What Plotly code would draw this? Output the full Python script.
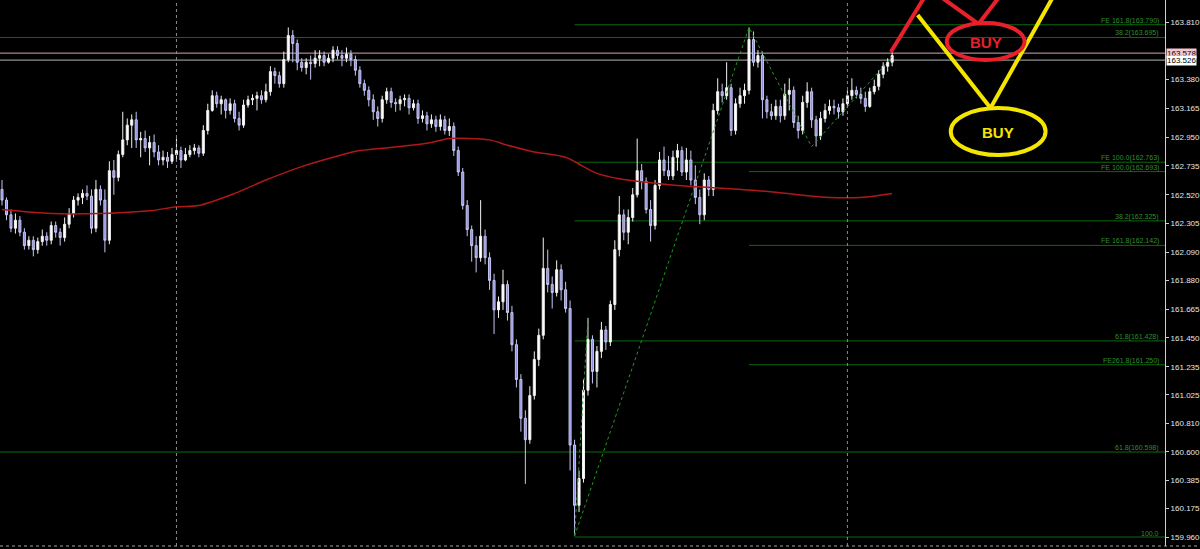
import plotly.graph_objects as go

# ──────────────────────────────────────────────────────────────────────────────
#  Data
# ──────────────────────────────────────────────────────────────────────────────

opens = [
    162.56, 162.48, 162.37, 162.27, 162.33, 162.24, 162.14, 162.18, 162.11, 162.17,
    162.21, 162.18, 162.29, 162.24, 162.20, 162.30, 162.38, 162.48, 162.50, 162.53,
    162.51, 162.27, 162.56, 162.48, 162.18, 162.70, 162.65, 162.82, 162.93, 163.04,
    163.08, 162.93, 162.94, 162.87, 162.91, 162.84, 162.78, 162.80, 162.77, 162.82,
    162.85, 162.78, 162.82, 162.85, 162.87, 162.83, 163.00, 163.15, 163.26, 163.20,
    163.23, 163.15, 163.20, 163.09, 163.04, 163.19, 163.23, 163.24, 163.26, 163.23,
    163.29, 163.44, 163.41, 163.35, 163.53, 163.71, 163.65, 163.51, 163.47, 163.51,
    163.50, 163.54, 163.56, 163.51, 163.54, 163.60, 163.56, 163.54, 163.57, 163.53,
    163.45, 163.35, 163.30, 163.23, 163.14, 163.09, 163.23, 163.29, 163.21, 163.20,
    163.23, 163.24, 163.17, 163.20, 163.09, 163.11, 163.05, 163.08, 163.03, 163.08,
    163.00, 163.03, 162.85, 162.69, 162.44, 162.26, 162.14, 162.05, 162.21, 162.05,
    161.88, 161.66, 161.72, 161.85, 161.64, 161.40, 161.14, 160.85, 160.69, 161.02,
    161.29, 161.47, 161.97, 161.85, 161.79, 161.96, 161.81, 161.67, 160.65, 160.20,
    160.40, 161.06, 161.44, 161.20, 161.35, 161.51, 161.42, 161.70, 162.11, 162.37,
    162.24, 162.35, 162.52, 162.70, 162.62, 162.41, 162.29, 162.59, 162.78, 162.70,
    162.66, 162.80, 162.85, 162.69, 162.78, 162.63, 162.50, 162.37, 162.63, 162.56,
    163.15, 163.29, 163.26, 163.32, 163.00, 163.20, 163.26, 163.30, 163.68, 163.51,
    163.56, 163.23, 163.14, 163.11, 163.18, 163.11, 163.27, 163.30, 163.06, 163.00,
    163.21, 163.29, 163.08, 162.96, 163.09, 163.15, 163.18, 163.17, 163.14, 163.20,
    163.26, 163.30, 163.27, 163.24, 163.18, 163.29, 163.33, 163.42, 163.48, 163.51,
]
highs = [
    162.63, 162.50, 162.41, 162.38, 162.36, 162.27, 162.21, 162.21, 162.20, 162.26,
    162.24, 162.32, 162.32, 162.27, 162.35, 162.42, 162.51, 162.53, 162.56, 162.59,
    162.56, 162.63, 162.59, 162.56, 162.77, 162.78, 162.85, 163.14, 163.09, 163.12,
    163.14, 162.99, 163.00, 162.96, 162.97, 162.89, 162.85, 162.84, 162.87, 162.94,
    162.88, 162.87, 162.89, 162.90, 162.89, 163.04, 163.20, 163.30, 163.29, 163.26,
    163.24, 163.24, 163.23, 163.14, 163.23, 163.26, 163.27, 163.29, 163.30, 163.35,
    163.48, 163.47, 163.44, 163.59, 163.77, 163.75, 163.68, 163.54, 163.54, 163.56,
    163.60, 163.60, 163.59, 163.57, 163.63, 163.63, 163.60, 163.62, 163.60, 163.56,
    163.48, 163.38, 163.33, 163.27, 163.18, 163.26, 163.32, 163.32, 163.24, 163.26,
    163.27, 163.27, 163.23, 163.23, 163.15, 163.14, 163.12, 163.11, 163.12, 163.11,
    163.09, 163.06, 162.88, 162.72, 162.48, 162.29, 162.21, 162.48, 162.26, 162.09,
    161.93, 161.76, 161.96, 161.88, 161.69, 161.44, 161.18, 160.91, 161.09, 161.35,
    161.52, 162.20, 162.11, 161.91, 162.03, 162.00, 161.87, 161.73, 160.69, 160.46,
    161.14, 161.60, 161.47, 161.39, 161.57, 161.54, 161.73, 162.18, 162.51, 162.41,
    162.41, 162.57, 162.94, 162.75, 162.65, 162.48, 162.63, 162.84, 162.88, 162.81,
    162.85, 162.90, 162.88, 162.87, 162.85, 162.74, 162.56, 162.68, 162.66, 163.20,
    163.39, 163.35, 163.51, 163.35, 163.24, 163.32, 163.35, 163.77, 163.74, 163.60,
    163.59, 163.26, 163.20, 163.23, 163.23, 163.35, 163.39, 163.33, 163.11, 163.26,
    163.36, 163.32, 163.11, 163.14, 163.20, 163.23, 163.23, 163.20, 163.24, 163.30,
    163.39, 163.33, 163.32, 163.29, 163.32, 163.38, 163.45, 163.51, 163.54, 163.59,
]
lows = [
    162.44, 162.33, 162.24, 162.23, 162.21, 162.11, 162.11, 162.06, 162.08, 162.14,
    162.14, 162.15, 162.20, 162.14, 162.17, 162.27, 162.35, 162.44, 162.45, 162.48,
    162.23, 162.24, 162.44, 162.09, 162.15, 162.52, 162.62, 162.80, 162.89, 162.87,
    162.87, 162.80, 162.84, 162.74, 162.80, 162.74, 162.74, 162.72, 162.75, 162.77,
    162.72, 162.77, 162.80, 162.82, 162.80, 162.81, 162.97, 163.14, 163.17, 163.12,
    163.09, 163.12, 163.06, 163.00, 163.02, 163.17, 163.19, 163.15, 163.20, 163.21,
    163.26, 163.35, 163.32, 163.32, 163.51, 163.51, 163.45, 163.44, 163.42, 163.38,
    163.47, 163.48, 163.48, 163.50, 163.51, 163.53, 163.48, 163.51, 163.48, 163.41,
    163.32, 163.26, 163.18, 163.08, 163.03, 163.06, 163.20, 163.17, 163.14, 163.15,
    163.18, 163.12, 163.15, 163.05, 163.06, 163.00, 163.02, 162.99, 163.00, 162.97,
    162.96, 162.81, 162.66, 162.41, 162.21, 162.02, 161.94, 162.02, 162.00, 161.81,
    161.48, 161.60, 161.66, 161.58, 161.35, 161.08, 160.75, 160.36, 160.66, 160.99,
    161.24, 161.44, 161.79, 161.67, 161.76, 161.73, 161.64, 160.46, 159.97, 160.15,
    160.37, 161.02, 161.11, 161.08, 161.30, 161.36, 161.39, 161.66, 162.06, 162.18,
    162.15, 162.32, 162.50, 162.56, 162.38, 162.17, 162.26, 162.56, 162.66, 162.63,
    162.63, 162.70, 162.66, 162.63, 162.59, 162.45, 162.30, 162.33, 162.51, 162.51,
    163.12, 163.21, 163.23, 162.96, 162.97, 163.17, 163.20, 163.27, 163.48, 163.47,
    163.09, 163.09, 163.08, 163.08, 163.06, 163.08, 163.15, 163.02, 162.94, 162.97,
    163.17, 163.02, 162.88, 162.93, 163.06, 163.12, 163.12, 163.09, 163.11, 163.17,
    163.23, 163.24, 163.20, 163.14, 163.17, 163.27, 163.30, 163.39, 163.44, 163.48,
]
closes = [
    162.48, 162.37, 162.27, 162.33, 162.24, 162.14, 162.18, 162.11, 162.17, 162.21,
    162.18, 162.29, 162.24, 162.20, 162.30, 162.38, 162.48, 162.50, 162.53, 162.51,
    162.27, 162.56, 162.48, 162.18, 162.70, 162.65, 162.82, 162.93, 163.04, 163.08,
    162.93, 162.94, 162.87, 162.91, 162.84, 162.78, 162.80, 162.77, 162.82, 162.85,
    162.78, 162.82, 162.85, 162.87, 162.83, 163.00, 163.15, 163.26, 163.20, 163.23,
    163.15, 163.20, 163.09, 163.04, 163.19, 163.23, 163.24, 163.26, 163.23, 163.29,
    163.44, 163.41, 163.35, 163.53, 163.71, 163.65, 163.51, 163.47, 163.51, 163.50,
    163.54, 163.56, 163.51, 163.54, 163.60, 163.56, 163.54, 163.57, 163.53, 163.45,
    163.35, 163.30, 163.23, 163.14, 163.09, 163.23, 163.29, 163.21, 163.20, 163.23,
    163.24, 163.17, 163.20, 163.09, 163.11, 163.05, 163.08, 163.03, 163.08, 163.00,
    163.03, 162.85, 162.69, 162.44, 162.26, 162.14, 162.05, 162.21, 162.05, 161.88,
    161.66, 161.72, 161.85, 161.64, 161.40, 161.14, 160.85, 160.69, 161.02, 161.29,
    161.47, 161.97, 161.85, 161.79, 161.96, 161.81, 161.67, 160.65, 160.20, 160.40,
    161.06, 161.44, 161.20, 161.35, 161.51, 161.42, 161.70, 162.11, 162.37, 162.24,
    162.35, 162.52, 162.70, 162.62, 162.41, 162.29, 162.59, 162.78, 162.70, 162.66,
    162.80, 162.85, 162.69, 162.78, 162.63, 162.50, 162.37, 162.63, 162.56, 163.15,
    163.29, 163.26, 163.32, 163.00, 163.20, 163.26, 163.30, 163.68, 163.51, 163.56,
    163.23, 163.14, 163.11, 163.18, 163.11, 163.27, 163.30, 163.06, 163.00, 163.21,
    163.29, 163.08, 162.96, 163.09, 163.15, 163.18, 163.17, 163.14, 163.20, 163.26,
    163.30, 163.27, 163.24, 163.18, 163.29, 163.33, 163.42, 163.48, 163.51, 163.56,
]
candle_idx = list(range(len(closes)))

# moving average (red)
ma_idx = [0, 11, 22, 33, 39, 44, 52, 59, 67, 74, 80, 89, 96, 100, 109, 113,
          119, 126, 130, 133, 138, 145, 151, 160, 169, 178, 185, 192, 199]
ma_val = [162.41, 162.38, 162.38, 162.40, 162.43, 162.44, 162.53, 162.63, 162.73,
          162.80, 162.85, 162.88, 162.91, 162.94, 162.93, 162.89, 162.84, 162.80,
          162.73, 162.68, 162.64, 162.61, 162.59, 162.57, 162.55, 162.52, 162.50,
          162.50, 162.53]

# zigzag (green dotted)
zig_idx = [128, 167, 181, 199]
zig_val = [159.97, 163.77, 162.88, 163.55]
zig_short_idx = [128, 131]
zig_short_val = [159.97, 161.60]

# fibonacci / expansion levels
fib_levels = [163.790, 163.695, 162.763, 162.693, 162.325, 162.142,
              161.428, 161.250, 160.598, 159.963]
fib_labels = ["FE 161.8(163.790)", "38.2(163.695)", "FE 100.0(162.763)",
              "FE 100.0(162.693)", "38.2(162.325)", "FE 161.8(162.142)",
              "61.8(161.428)", "FE261.8(161.250)", "61.8(160.598)", "100.0"]
fib_from = [128, -5, 128, 167, 128, 167, 128, 167, -5, 128]

separator_idx = [39, 189]
ask_price = 163.578
bid_price = 163.526

tick_vals = [163.810, 163.380, 163.165, 162.950, 162.735, 162.520, 162.305,
             162.090, 161.880, 161.665, 161.450, 161.235, 161.025, 160.810,
             160.600, 160.385, 160.175, 159.960]

X_MAX = 260.0
FONT = "Liberation Sans, Arial, sans-serif"

# ──────────────────────────────────────────────────────────────────────────────
#  Figure
# ──────────────────────────────────────────────────────────────────────────────

fig = go.Figure()

fig.add_trace(go.Candlestick(
    x=candle_idx, open=opens, high=highs, low=lows, close=closes,
    increasing=dict(line=dict(color="#f2f2f2", width=1), fillcolor="#ffffff"),
    decreasing=dict(line=dict(color="#c6c6f2", width=1), fillcolor="#8e8ee0"),
    whiskerwidth=0, hoverinfo="skip", showlegend=False,
))

fig.add_trace(go.Scatter(
    x=ma_idx, y=ma_val, mode="lines",
    line=dict(color="#b01818", width=1.5, shape="spline", smoothing=0.8),
    hoverinfo="skip", showlegend=False,
))

for xs, ys in [(zig_idx, zig_val), (zig_short_idx, zig_short_val)]:
    fig.add_trace(go.Scatter(
        x=xs, y=ys, mode="lines",
        line=dict(color="#1f9a1f", width=1, dash="dot"),
        hoverinfo="skip", showlegend=False,
    ))

# fibo lines + labels
for lvl, txt, start in zip(fib_levels, fib_labels, fib_from):
    fig.add_shape(type="line", xref="x", yref="y", x0=start, x1=X_MAX + 5,
                  y0=lvl, y1=lvl, line=dict(color="#0c6a0c", width=1), layer="below")
    fig.add_annotation(xref="paper", yref="y", x=1, y=lvl, text=txt,
                       xanchor="right", yanchor="bottom", showarrow=False,
                       xshift=-4, yshift=-2,
                       font=dict(size=7, color="#2f8f2f", family=FONT))

# bid / ask lines
fig.add_hline(y=ask_price, line=dict(color="#d4a4b2", width=1), layer="below")
fig.add_hline(y=bid_price, line=dict(color="#b4b4b4", width=1), layer="below")

# period separators
for sx in separator_idx:
    fig.add_shape(type="line", xref="x", yref="paper", x0=sx, x1=sx, y0=0, y1=1,
                  line=dict(color="#8a8a8a", width=1, dash="dot"))

# chart border (dotted)
fig.add_shape(type="line", xref="paper", yref="paper", x0=0, x1=1.03, y0=0, y1=0,
              line=dict(color="#a0a0a0", width=1, dash="dot"))

# price boxes on the axis
for price, bg in [(ask_price, "#f4c6ce"), (bid_price, "#ffffff")]:
    fig.add_annotation(xref="paper", yref="y", x=1, y=price, text=f"{price:.3f}",
                       xanchor="left", yanchor="middle", showarrow=False,
                       xshift=1, bgcolor=bg, borderpad=0,
                       font=dict(size=8, color="#000000", family=FONT))

# hand-drawn BUY marks
RED = "#e8202a"
YEL = "#f5e600"
for x0, y0, x1, y1, col in [
    (198.7, 163.587, 206.3, 164.00, RED),
    (209.8, 164.00, 218.3, 163.796, RED),
    (218.3, 163.796, 223.0, 164.00, RED),
    (204.7, 163.863, 221.0, 163.168, YEL),
    (221.0, 163.168, 235.0, 164.00, YEL),
]:
    fig.add_shape(type="line", xref="x", yref="y", x0=x0, y0=y0, x1=x1, y1=y1,
                  line=dict(color=col, width=4))
fig.add_shape(type="circle", xref="x", yref="y", x0=211.2, x1=228.6,
              y0=163.527, y1=163.803, line=dict(color=RED, width=4))
fig.add_shape(type="circle", xref="x", yref="y", x0=212.1, x1=233.3,
              y0=162.817, y1=163.168, line=dict(color=YEL, width=4))
fig.add_annotation(x=219.9, y=163.655, text="<b>BUY</b>", showarrow=False,
                   font=dict(size=15, color=RED, family=FONT))
fig.add_annotation(x=222.7, y=162.985, text="<b>BUY</b>", showarrow=False,
                   font=dict(size=15, color=YEL, family=FONT))

fig.update_layout(
    width=1200, height=549,
    paper_bgcolor="#000000", plot_bgcolor="#000000",
    margin=dict(l=0, r=33, t=0, b=3),
    font=dict(family=FONT, size=8, color="#e6e6e6"),
    showlegend=False, boxgap=0.35,
    hovermode=False,
)
fig.update_xaxes(range=[-0.45, X_MAX], visible=False, rangeslider_visible=False,
                 showgrid=False, zeroline=False)
fig.update_yaxes(
    side="right", range=[159.896, 163.975], showgrid=False, zeroline=False,
    tickvals=tick_vals, ticktext=[f"{v:.3f}" for v in tick_vals],
    ticks="outside", ticklen=3, tickcolor="#d0d0d0",
    showline=True, linecolor="#d0d0d0", linewidth=1,
    tickfont=dict(size=8, color="#e6e6e6", family=FONT),
)

# page body has a default margin; drop it so the chart fills the window
fig.write_html(
    "out.html",
    config={"displayModeBar": False},
    post_script="document.body.style.margin='0px';"
                "document.body.style.background='#000';"
                "document.body.style.overflow='hidden';",
)
